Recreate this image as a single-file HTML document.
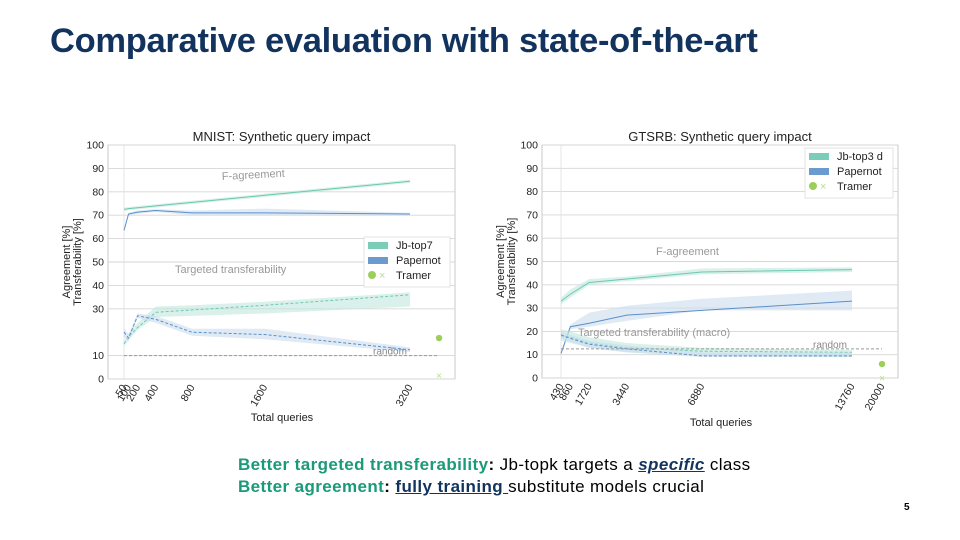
<!DOCTYPE html>
<html><head><meta charset="utf-8"><style>
body{margin:0;width:960px;height:540px;background:#fff;overflow:hidden;position:relative;font-family:"Liberation Sans",sans-serif}
#title{position:absolute;left:50px;top:22px;font-size:34.5px;font-weight:bold;color:#12335e;letter-spacing:-0.3px}
.note{position:absolute;left:238px;font-size:17px;color:#000;letter-spacing:0.4px}
.g{color:#1a9a78;font-weight:bold}
.u{color:#12335e;text-decoration:underline;font-weight:bold}
#pg{position:absolute;left:904px;top:502px;font-size:10px;font-weight:bold}
svg{position:absolute;left:0;top:0}
</style></head><body>
<div id="title">Comparative evaluation with state-of-the-art</div>
<svg id="c" width="960" height="540"></svg>
<div class="note" style="top:455px"><span class="g">Better targeted transferability</span><b>:</b> Jb-topk targets a <i class="u">specific</i> class</div>
<div class="note" style="top:477px"><span class="g">Better agreement</span><b>:</b> <span class="u">fully training </span>substitute models crucial</div>
<div id="pg">5</div>
<script>
// MNIST data
const mX=[50,100,200,400,800,1600,3200];
const mJbAgr=[72.5,72.8,73.2,74,75.5,78.5,84.5];
const mJbAgrLo=[71.8,72.1,72.5,73.3,74.8,77.8,83.8];
const mJbAgrHi=[73.2,73.5,73.9,74.7,76.2,79.2,85.2];
const mPaAgr=[63.5,70.5,71.3,72,71,71,70.5];
const mPaAgrLo=[63,70,70.6,71.4,70,70,70];
const mPaAgrHi=[64,71,72,72.6,72,72.8,71];
const mJbTr=[15,18,22,28.5,29.5,31.5,36];
const mJbTrLo=[14,16.5,21,26.5,27,28,31];
const mJbTrHi=[16,19.5,24,31,31.5,33,37];
const mPaTr=[20,17.5,27,25.5,20,19,12.5];
const mPaTrLo=[18,16,26,24,18.5,17,11.5];
const mPaTrHi=[22,19,28,27,21.5,21.5,13.5];
const mRandom=10, mTramerX=3520, mTramerAgr=17.5, mTramerTr=1.5;
const mTicks=[50,100,200,400,800,1600,3200];
// GTSRB data
const gX=[430,860,1720,3440,6880,13760];
const gJbAgr=[33,36,41,42.5,45.5,46.5];
const gJbAgrLo=[31.5,34.5,40,41.5,44.5,45.5];
const gJbAgrHi=[34.5,38,42.5,43.5,47,47.5];
const gPaAgr=[10.5,22,23.5,27,29,33];
const gPaAgrLo=[10,21,22,24.5,29,29];
const gPaAgrHi=[11,23,28,31,34,37.5];
const gJbTr=[18,17.5,15,13,11.5,11];
const gJbTrLo=[16,15,13,11,9.5,9];
const gJbTrHi=[21,20,17.5,15,13,12];
const gPaTr=[18.5,17,14.5,12.5,9.5,9.5];
const gPaTrLo=[17,15.5,13,11,9,9];
const gPaTrHi=[20,18.5,16,14,11,11];
const gRandom=12.5, gTramerX=20000, gTramerAgr=6, gTramerTr=0;
const gTicks=[430,860,1720,3440,6880,13760,20000];
const yTicks=[0,10,20,30,40,50,60,70,80,90,100];

const svg=document.getElementById('c');const NS='http://www.w3.org/2000/svg';
function el(t,a,txt){const e=document.createElementNS(NS,t);for(const k in a)e.setAttribute(k,a[k]);if(txt!==undefined)e.textContent=txt;svg.appendChild(e);return e;}
const GREEN='#6cc8b0',GBAND='#bfe8dc',BLUE='#5b8fc9',BBAND='#c9dcee';

function chart(o){
  const ys=v=>o.y0+(o.y100-o.y0)*v/100;
  const xs=o.xs;
  let r=el('rect',{x:o.L,y:o.y100,width:o.R-o.L,height:o.y0-o.y100,fill:'none',stroke:'#bbb','stroke-width':0.8});
  
  const ylab=o.yTickLabels;
  yTicks.forEach(v=>{
    if(ylab.indexOf(v)<0)return;
    let l=el('line',{x1:o.L,x2:o.R,y1:ys(v),y2:ys(v),stroke:'#d6d6d6','stroke-width':0.9});
    
    let t=el('text',{x:o.L-4,y:ys(v)+3.5,'font-size':10.5,'text-anchor':'end',fill:'#222'},String(v));
    
  });
  let vg=el('line',{x1:xs(o.ticks[0]),x2:xs(o.ticks[0]),y1:o.y100,y2:o.y0,stroke:'#e0e0e0','stroke-width':0.8});
  
  o.ticks.forEach(v=>{
    let t=el('text',{x:0,y:0,'font-size':10.5,'text-anchor':'end',fill:'#222',transform:`translate(${xs(v)+3},${o.y0+8}) rotate(-60)`},String(v));
    
  });
  const band=(X,lo,hi,c,n)=>{let d='M'+X.map((x,i)=>xs(x)+','+ys(hi[i])).join('L')+'L'+X.map((x,i)=>xs(x)+','+ys(lo[i])).reverse().join('L')+'Z';
    let p=el('path',{d:d,fill:c,opacity:0.6});};
  const line=(X,Y,c,dash,n)=>{let p=el('polyline',{points:X.map((x,i)=>xs(x)+','+ys(Y[i])).join(' '),fill:'none',stroke:c,'stroke-width':1,'stroke-dasharray':dash?'3,2':'none'});
    };
  const X=o.X;
  band(X,o.jbAL,o.jbAH,GBAND,o.id+'-jb-agreement-band');line(X,o.jbA,GREEN,false,o.id+'-jb-agreement-line');
  band(X,o.paAL,o.paAH,BBAND,o.id+'-papernot-agreement-band');line(X,o.paA,BLUE,false,o.id+'-papernot-agreement-line');
  band(X,o.jbTL,o.jbTH,GBAND,o.id+'-jb-transfer-band');line(X,o.jbT,GREEN,true,o.id+'-jb-transfer-line');
  band(X,o.paTL,o.paTH,BBAND,o.id+'-papernot-transfer-band');line(X,o.paT,BLUE,true,o.id+'-papernot-transfer-line');
  let rl=el('line',{x1:xs(X[0]),x2:xs(o.tX),y1:ys(o.rnd),y2:ys(o.rnd),stroke:'#999','stroke-dasharray':'3,2','stroke-width':1});
  
  let rt=el('text',{x:o.rndLX,y:ys(o.rnd)-1,'font-size':10,fill:'#888'},'random');
  
  let c=el('circle',{cx:xs(o.tX),cy:ys(o.tA),r:3.2,fill:'#9ccf5a'});
  
  let x=el('text',{x:xs(o.tX),y:ys(o.tT)+3.5,'font-size':10,'text-anchor':'middle',fill:'#b8dc8a'},'×');
  
  let tt=el('text',{x:(o.L+o.R)/2,y:o.y100-4,'font-size':13,'text-anchor':'middle',fill:'#222'},o.title);
  
  let xl=el('text',{x:o.xlX,y:o.xlY,'font-size':11,'text-anchor':'middle',fill:'#222'},'Total queries');
  
  let y1=el('text',{x:0,y:0,'font-size':11,'text-anchor':'middle',fill:'#222',transform:`translate(${o.L-38},${(o.y0+o.y100)/2}) rotate(-90)`},'Agreement [%]');
  
  let y2=el('text',{x:0,y:0,'font-size':11,'text-anchor':'middle',fill:'#222',transform:`translate(${o.L-27},${(o.y0+o.y100)/2}) rotate(-90)`},'Transferability [%]');
  
  o.annot.forEach(a=>{let t=el('text',{x:a[0],y:a[1],'font-size':11,fill:'#999',transform:a[3]||''},a[2]);
    });
  const lg=o.leg;
  let lb=el('rect',{x:lg[0],y:lg[1],width:lg[2],height:50,fill:'#fff',stroke:'#ddd','stroke-width':0.8});
  
  [[GREEN,o.jbName],[BLUE,'Papernot']].forEach((e,i)=>{
    let s=el('rect',{x:lg[0]+4,y:lg[1]+5+i*15,width:20,height:7,fill:e[0],opacity:0.9});
    
    let t=el('text',{x:lg[0]+32,y:lg[1]+12+i*15,'font-size':11,fill:'#222'},e[1]);
    
  });
  let lc=el('circle',{cx:lg[0]+8,cy:lg[1]+38,r:4,fill:'#9ccf5a'});
  let lx=el('text',{x:lg[0]+15,y:lg[1]+42,'font-size':11,fill:'#b8dc8a'},'×');
  let lt=el('text',{x:lg[0]+32,y:lg[1]+42,'font-size':11,fill:'#222'},'Tramer');
}
chart({id:'mnist',L:108,R:455,y0:379,y100:145,X:mX,ticks:mTicks,
  xs:v=>124+(v-50)*(286/3150),yTickLabels:[0,10,30,40,50,60,70,80,90,100],
  jbA:mJbAgr,jbAL:mJbAgrLo,jbAH:mJbAgrHi,paA:mPaAgr,paAL:mPaAgrLo,paAH:mPaAgrHi,
  jbT:mJbTr,jbTL:mJbTrLo,jbTH:mJbTrHi,paT:mPaTr,paTL:mPaTrLo,paTH:mPaTrHi,
  rnd:mRandom,rndLX:373,tX:mTramerX,tA:mTramerAgr,tT:mTramerTr,
  title:'MNIST: Synthetic query impact',xlX:282,xlY:421,jbName:'Jb-top7',
  annot:[[222,180,'F-agreement','rotate(-3 222 180)'],[175,273,'Targeted transferability']],leg:[364,237,86]});
chart({id:'gtsrb',L:542,R:898,y0:378,y100:145,X:gX,ticks:gTicks,
  xs:v=>v<=13760?561+(v-430)*(291/13330):852+(v-13760)*(30/6240),yTickLabels:yTicks,
  jbA:gJbAgr,jbAL:gJbAgrLo,jbAH:gJbAgrHi,paA:gPaAgr,paAL:gPaAgrLo,paAH:gPaAgrHi,
  jbT:gJbTr,jbTL:gJbTrLo,jbTH:gJbTrHi,paT:gPaTr,paTL:gPaTrLo,paTH:gPaTrHi,
  rnd:gRandom,rndLX:813,tX:gTramerX,tA:gTramerAgr,tT:gTramerTr,
  title:'GTSRB: Synthetic query impact',xlX:721,xlY:426,jbName:'Jb-top3 d',
  annot:[[656,255,'F-agreement'],[578,336,'Targeted transferability (macro)']],leg:[805,148,88]});
</script>
</body></html>
